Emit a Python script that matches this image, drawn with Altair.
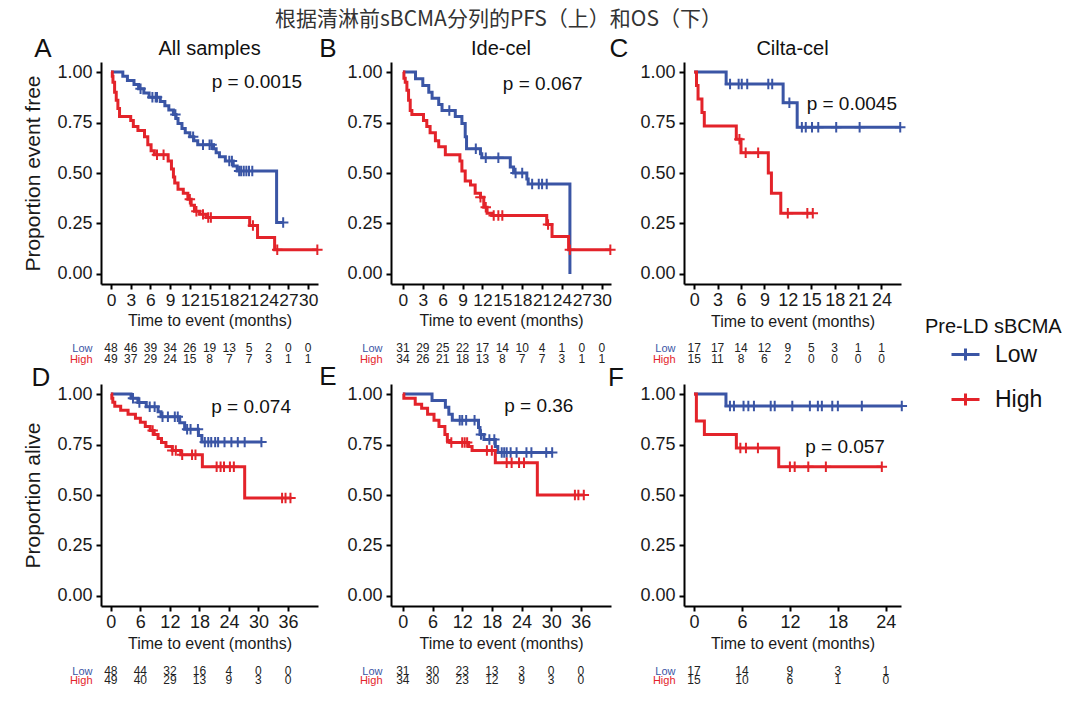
import bisect
import altair as alt
import pandas as pd

TITLE = "根据清淋前sBCMA分列的PFS（上）和OS（下）"
GROUPS = ["Low", "High"]
COLORS = ["#3A55A5", "#E3232A"]
LEGEND_TITLE = "Pre-LD sBCMA"
PANEL_LETTERS = ["A", "B", "C", "D", "E", "F"]
PANEL_TITLES = ["All samples", "Ide-cel", "Cilta-cel"]
Y_TITLES = ["Proportion event free", "Proportion alive"]
X_TITLE = "Time to event (months)"
P_VALUES = ["p = 0.0015", "p = 0.067", "p = 0.0045", "p = 0.074", "p = 0.36", "p = 0.057"]

# ---------------- Panel A (PFS, all samples) ----------------
A_LOW_T = [0, 1.8, 2.5, 3.5, 4.2, 5.0, 5.8, 7.5, 8.2, 8.8, 9.5, 9.9, 10.2, 10.8, 11.3, 12.0, 12.6, 13.2,
           15.6, 16.0, 16.5, 17.4, 18.6, 19.2, 25.2, 26.2]
A_LOW_S = [1.0, .979, .958, .938, .917, .896, .875, .854, .833, .812, .79, .77, .745, .72, .70, .68, .66, .64,
           .62, .60, .58, .56, .535, .51, .255, .255]
A_LOW_C = [4.5, 6.3, 6.8, 7.0, 9.8, 12.5, 14.0, 15.0, 15.3, 18.0, 18.4, 19.5, 19.8, 20.2, 20.6, 21.0, 21.5, 26.2]
A_HIGH_T = [0, 0.2, 0.3, 0.55, 0.8, 1.05, 1.3, 3.0, 3.4, 4.1, 5.1, 5.6, 6.1, 6.6, 8.7, 9.2, 9.5, 9.7, 10.2,
            11.0, 11.7, 12.2, 12.7, 13.5, 14.5, 21.1, 22.3, 24.9, 31.4]
A_HIGH_S = [1.0, .98, .95, .90, .86, .82, .78, .76, .73, .71, .68, .64, .61, .59, .56, .52, .48, .45, .42,
            .40, .37, .34, .31, .295, .28, .24, .18, .12, .12]
A_HIGH_C = [7.0, 8.0, 12.0, 13.0, 14.0, 14.8, 15.2, 21.6, 25.3, 31.4]
A_RISK_LOW = [48, 46, 39, 34, 26, 19, 13, 5, 2, 0, 0]
A_RISK_HIGH = [49, 37, 29, 24, 15, 8, 7, 7, 3, 1, 1]

# ---------------- Panel B (PFS, Ide-cel) ----------------
B_LOW_T = [0, 1.9, 3.0, 3.9, 4.4, 5.4, 5.9, 7.9, 8.9, 9.4, 9.6, 11.7, 11.9, 16.2, 16.7, 18.7, 18.9, 25.2]
B_LOW_S = [1.0, .967, .933, .90, .87, .84, .81, .78, .745, .68, .62, .595, .575, .53, .50, .47, .445, 0.0]
B_LOW_C = [7.0, 11.0, 12.5, 14.4, 17.0, 18.0, 19.5, 20.5, 21.0, 21.7]
B_HIGH_T = [0, 0.15, 0.35, 0.6, 0.85, 1.1, 1.35, 3.1, 3.6, 4.1, 4.9, 5.4, 6.4, 8.6, 8.9, 9.4, 10.2, 10.9,
            11.7, 12.2, 12.7, 13.4, 21.7, 22.5, 25.0, 31.3]
B_HIGH_S = [1.0, .97, .95, .91, .86, .81, .79, .76, .73, .70, .66, .63, .59, .56, .51, .46, .44, .40,
            .38, .33, .30, .29, .245, .185, .12, .12]
B_HIGH_C = [11.7, 12.5, 13.7, 14.4, 15.0, 21.9, 25.2, 31.3]
B_RISK_LOW = [31, 29, 25, 22, 17, 14, 10, 4, 1, 0, 0]
B_RISK_HIGH = [34, 26, 21, 18, 13, 8, 7, 7, 3, 1, 1]

# ---------------- Panel C (PFS, Cilta-cel) ----------------
C_LOW_T = [0, 4.1, 11.4, 13.2, 26.4]
C_LOW_S = [1.0, .941, .848, .727, .727]
C_LOW_C = [4.6, 5.7, 6.1, 6.8, 9.5, 10.0, 12.2, 13.8, 14.3, 15.1, 15.9, 18.2, 21.2, 26.4]
C_HIGH_T = [0, 0.3, 0.5, 1.0, 1.3, 5.4, 6.0, 9.5, 9.9, 11.1, 15.2]
C_HIGH_S = [1.0, .933, .867, .80, .733, .667, .60, .50, .40, .30, .30]
C_HIGH_C = [5.8, 6.6, 8.2, 12.0, 14.5, 15.2]
C_RISK_LOW = [17, 17, 14, 12, 9, 5, 3, 1, 1]
C_RISK_HIGH = [15, 11, 8, 6, 2, 0, 0, 0, 0]

# ---------------- Panel D (OS, all samples) ----------------
D_LOW_T = [0, 4.1, 5.5, 7.2, 9.6, 10.2, 14.0, 15.0, 17.8, 18.5, 30.6]
D_LOW_S = [1.0, .979, .958, .937, .912, .888, .858, .826, .795, .762, .762]
D_LOW_C = [4.5, 5.8, 7.9, 8.9, 10.5, 11.6, 13.0, 13.6, 15.5, 16.2, 17.7, 19.1, 19.8, 20.4, 21.2, 21.8,
           23.1, 24.5, 25.8, 27.2, 30.6]
D_HIGH_T = [0, 0.2, 0.4, 0.8, 2.0, 3.5, 5.0, 6.0, 7.0, 8.0, 8.8, 9.6, 10.3, 11.2, 12.5, 14.2, 18.6, 27.2, 36.7]
D_HIGH_S = [1.0, .98, .96, .94, .92, .90, .88, .86, .84, .82, .80, .78, .76, .74, .72, .70, .64, .485, .485]
D_HIGH_C = [8.5, 12.5, 13.2, 14.5, 16.5, 17.2, 21.5, 22.3, 23.0, 24.2, 25.0, 34.8, 35.5, 36.5]
D_RISK_LOW = [48, 44, 32, 16, 4, 0, 0]
D_RISK_HIGH = [49, 40, 29, 13, 9, 3, 0]

# ---------------- Panel E (OS, Ide-cel) ----------------
E_LOW_T = [0, 5.9, 8.6, 9.3, 10.0, 15.3, 15.6, 16.4, 18.7, 19.2, 30.2]
E_LOW_S = [1.0, .968, .935, .90, .87, .835, .80, .775, .74, .71, .71]
E_LOW_C = [11.5, 12.0, 12.8, 14.5, 15.8, 17.5, 18.5, 20.0, 20.5, 21.0, 21.8, 23.0, 25.0, 26.0, 29.0, 30.2]
E_HIGH_T = [0, 0.2, 2.5, 3.8, 5.0, 6.3, 7.3, 8.5, 9.0, 9.5, 13.3, 14.0, 18.7, 27.2, 36.6]
E_HIGH_S = [1.0, .98, .95, .93, .90, .87, .84, .80, .77, .76, .74, .72, .66, .50, .50]
E_HIGH_C = [9.8, 12.0, 12.5, 13.0, 17.0, 18.0, 21.0, 22.0, 23.5, 24.5, 34.8, 35.5, 36.6]
E_RISK_LOW = [31, 30, 23, 13, 3, 0, 0]
E_RISK_HIGH = [34, 30, 23, 12, 9, 3, 0]

# ---------------- Panel F (OS, Cilta-cel) ----------------
F_LOW_T = [0, 4.0, 26.0]
F_LOW_S = [1.0, .941, .941]
F_LOW_C = [4.5, 5.0, 6.2, 6.8, 7.5, 9.6, 10.1, 12.3, 14.5, 15.5, 16.0, 17.3, 18.0, 21.0, 26.0]
F_HIGH_T = [0, 0.3, 1.3, 5.3, 10.6, 23.5]
F_HIGH_S = [1.0, .867, .80, .733, .64, .64]
F_HIGH_C = [5.8, 6.5, 8.0, 12.0, 12.6, 14.3, 16.5, 23.5]
F_RISK_LOW = [17, 14, 9, 3, 1]
F_RISK_HIGH = [15, 10, 6, 1, 0]

TICKS_3_30 = list(range(0, 31, 3))
TICKS_3_24 = list(range(0, 25, 3))
TICKS_6_36 = list(range(0, 37, 6))
TICKS_6_24 = list(range(0, 25, 6))

PLUS = "M0,-1L0,1M-1,0L1,0"
LEGEND = alt.Legend(
    title=LEGEND_TITLE, orient="none", legendX=824, legendY=255,
    titleFontSize=20, titleFontWeight="normal", titleColor="#111",
    labelFontSize=23, labelColor="#111",
    symbolType="M-1,0L1,0M0,-0.42L0,0.42", symbolSize=784, symbolStrokeWidth=3,
    rowPadding=17, titlePadding=2, symbolOffset=25, labelOffset=14, padding=0,
)


def curve_df(T, S, g):
    return pd.DataFrame({"t": T, "s": S, "g": g})


def censor_df(C, T, S, g):
    ys = [S[bisect.bisect_right(T, c) - 1] for c in C]
    return pd.DataFrame({"t": C, "s": ys, "g": g})


def km_panel(low, high, x_dom, x_ticks, width, y_title, title, p_text, p_xy, letter, letter_dx, letter_dy,
             xlab_size=18):
    lines_df = pd.concat([curve_df(low[0], low[1], "Low"), curve_df(high[0], high[1], "High")])
    cens_df = pd.concat([censor_df(low[2], low[0], low[1], "Low"), censor_df(high[2], high[0], high[1], "High")])
    xs = alt.Scale(domain=x_dom, nice=False, zero=False)
    ys = alt.Scale(domain=[-0.05, 1.05], nice=False, zero=False)
    xa = alt.Axis(values=x_ticks, tickCount=40, format="d", title=X_TITLE, titleFontSize=16, titlePadding=4,
                  labelFontSize=xlab_size, labelPadding=2, labelOverlap=False, labelFlush=False, grid=False)
    ya = alt.Axis(values=[0, 0.25, 0.5, 0.75, 1.0], tickCount=10, format=".2f", title=y_title, titleFontSize=21,
                  titlePadding=13, labelFontSize=18, labelPadding=4, grid=False)
    color = alt.Color("g:N", scale=alt.Scale(domain=GROUPS, range=COLORS), legend=LEGEND)
    lines = alt.Chart(lines_df).mark_line(interpolate="step-after", strokeWidth=3).encode(
        x=alt.X("t:Q", scale=xs, axis=xa), y=alt.Y("s:Q", scale=ys, axis=ya), color=color)
    cens = alt.Chart(cens_df).mark_point(shape=PLUS, size=110, strokeWidth=2, filled=False, opacity=1).encode(
        x=alt.X("t:Q", axis=xa), y=alt.Y("s:Q", axis=ya),
        color=alt.Color("g:N", scale=alt.Scale(domain=GROUPS, range=COLORS), legend=None))
    ptxt = alt.Chart(pd.DataFrame({"p": [p_text]})).mark_text(fontSize=19, color="#111").encode(
        x=alt.datum(p_xy[0]), y=alt.datum(p_xy[1]), text="p:N")
    let = alt.Chart(pd.DataFrame({"L": [letter]})).mark_text(fontSize=26, color="#111").encode(
        x=alt.value(letter_dx), y=alt.value(letter_dy), text="L:N")
    layers = [lines, cens, ptxt, let]
    if title:
        ttl = alt.Chart(pd.DataFrame({"T": [title]})).mark_text(fontSize=20, color="#111").encode(
            x=alt.value(width / 2), y=alt.value(-13), text="T:N")
        layers.append(ttl)
    return alt.layer(*layers).properties(width=width, height=222)


def risk_panel(x_dom, x_ticks, width, low_n, high_n, row_px):
    df = pd.DataFrame({"t": x_ticks + x_ticks, "g": ["Low"] * len(x_ticks) + ["High"] * len(x_ticks),
                       "n": low_n + high_n})
    return alt.Chart(df).mark_text(fontSize=12, color="#222").encode(
        x=alt.X("t:Q", scale=alt.Scale(domain=x_dom, nice=False, zero=False), axis=None),
        y=alt.Y("g:N", scale=alt.Scale(type="point", domain=GROUPS, range=row_px, padding=0),
                axis=alt.Axis(title=None, domain=False, ticks=False, labelFontSize=11, labelPadding=9,
                              labelColor={"expr": "datum.value === 'Low' ? '%s' : '%s'" % (COLORS[0], COLORS[1])})),
        text="n:Q",
    ).properties(width=width, height=60)


DOM_A, DOM_B, DOM_C = [-1.52, 31.5], [-1.8, 31.4], [-1.3, 26.5]
DOM_D, DOM_E, DOM_F = [-2.0, 42.1], [-2.4, 42.1], [-1.25, 25.9]
W_A, W_B, W_C = 217, 220, 217
ROWS_TOP = [44, 55]
ROWS_BOT = [45, 54]

kmA = km_panel((A_LOW_T, A_LOW_S, A_LOW_C), (A_HIGH_T, A_HIGH_S, A_HIGH_C), DOM_A, TICKS_3_30, W_A,
               Y_TITLES[0], PANEL_TITLES[0], P_VALUES[0], (22.2, 0.95), PANEL_LETTERS[0], -58, -13, 17.4)
kmB = km_panel((B_LOW_T, B_LOW_S, B_LOW_C), (B_HIGH_T, B_HIGH_S, B_HIGH_C), DOM_B, TICKS_3_30, W_B,
               None, PANEL_TITLES[1], P_VALUES[1], (21.1, 0.94), PANEL_LETTERS[1], -63, -13, 17.4)
kmC = km_panel((C_LOW_T, C_LOW_S, C_LOW_C), (C_HIGH_T, C_HIGH_S, C_HIGH_C), DOM_C, TICKS_3_24, W_C,
               None, PANEL_TITLES[2], P_VALUES[2], (20.2, 0.84), PANEL_LETTERS[2], -65, -13)
kmD = km_panel((D_LOW_T, D_LOW_S, D_LOW_C), (D_HIGH_T, D_HIGH_S, D_HIGH_C), DOM_D, TICKS_6_36, W_A,
               Y_TITLES[1], None, P_VALUES[3], (28.5, 0.935), PANEL_LETTERS[3], -60, -6)
kmE = km_panel((E_LOW_T, E_LOW_S, E_LOW_C), (E_HIGH_T, E_HIGH_S, E_HIGH_C), DOM_E, TICKS_6_36, W_B,
               None, None, P_VALUES[4], (27.5, 0.94), PANEL_LETTERS[4], -63, -7)
kmF = km_panel((F_LOW_T, F_LOW_S, F_LOW_C), (F_HIGH_T, F_HIGH_S, F_HIGH_C), DOM_F, TICKS_6_24, W_C,
               None, None, P_VALUES[5], (18.9, 0.74), PANEL_LETTERS[5], -68, -6)

rkA = risk_panel(DOM_A, TICKS_3_30, W_A, A_RISK_LOW, A_RISK_HIGH, ROWS_TOP)
rkB = risk_panel(DOM_B, TICKS_3_30, W_B, B_RISK_LOW, B_RISK_HIGH, ROWS_TOP)
rkC = risk_panel(DOM_C, TICKS_3_24, W_C, C_RISK_LOW, C_RISK_HIGH, ROWS_TOP)
rkD = risk_panel(DOM_D, TICKS_6_36, W_A, D_RISK_LOW, D_RISK_HIGH, ROWS_BOT)
rkE = risk_panel(DOM_E, TICKS_6_36, W_B, E_RISK_LOW, E_RISK_HIGH, ROWS_BOT)
rkF = risk_panel(DOM_F, TICKS_6_24, W_C, F_RISK_LOW, F_RISK_HIGH, ROWS_BOT)

chart = alt.concat(
    kmA, kmB, kmC, rkA, rkB, rkC, kmD, kmE, kmF, rkD, rkE, rkF,
    columns=3, spacing={"row": 20, "column": 73}, bounds="flush",
).properties(
    title=alt.TitleParams(TITLE, font="Noto Sans CJK SC", fontSize=21, fontWeight="normal", color="#333",
                          anchor="middle", dx=-44, offset=6),
    padding={"left": 14, "top": 1, "right": 10, "bottom": 5},
).configure(font="Liberation Sans").configure_view(stroke=None).configure_axis(
    domainColor="#000", domainWidth=2, tickColor="#000", tickWidth=2, tickSize=5,
    labelColor="#1a1a1a", titleColor="#1a1a1a", titleFontWeight="normal", grid=False, labelOverlap=False,
)

chart.save("out.html", embed_options={"renderer": "svg", "actions": False})
